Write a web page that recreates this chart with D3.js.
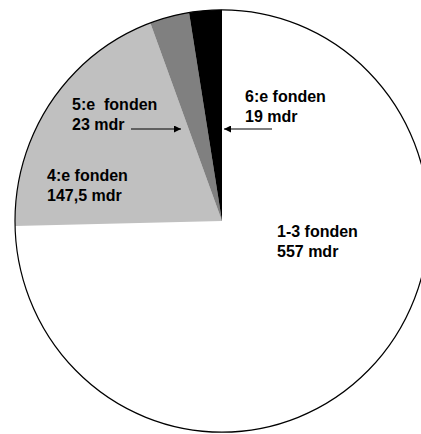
<!DOCTYPE html>
<html>
<head>
<meta charset="utf-8">
<script src="https://cdn.jsdelivr.net/npm/d3@7"></script>
<style>
  body { margin: 0; background: #fff; }
  text { font-family: "Liberation Sans", Arial, sans-serif; font-weight: bold; font-size: 16px; fill: #000; }
</style>
</head>
<body>
<div id="vis"></div>
<script>
// fund sizes, billions SEK
var funds = ['1-3 fonden', '4:e fonden', '5:e fonden', '6:e fonden'];
var values = [557, 147.5, 23, 19];
var labelLines = [
  ['1-3 fonden', '557 mdr'],
  ['4:e fonden', '147,5 mdr'],
  ['5:e  fonden', '23 mdr'],
  ['6:e fonden', '19 mdr']
];

var width = 421;
var height = 434;
var center = { x: 222, y: 221 };
var radius = 207;

var fillColor = d3.scaleOrdinal()
  .domain(funds)
  .range(['#ffffff', '#c0c0c0', '#808080', '#000000']);

// where each label block sits, and its arrow (if any)
var labelLayout = [
  { x: 277, y: 237, arrow: null },
  { x: 47, y: 181, arrow: null },
  { x: 72, y: 110, arrow: [131, 129, 181, 129] },
  { x: 245, y: 102, arrow: [272, 129, 224, 129] }
];

var svg = d3.select('#vis')
  .append('svg')
  .attr('width', width)
  .attr('height', height);

svg.append('defs').append('marker')
  .attr('id', 'head')
  .attr('viewBox', '0 0 10 10')
  .attr('refX', 10)
  .attr('refY', 5)
  .attr('markerWidth', 8)
  .attr('markerHeight', 7)
  .attr('markerUnits', 'userSpaceOnUse')
  .attr('orient', 'auto')
  .append('path')
  .attr('d', 'M0,0L10,5L0,10Z')
  .attr('fill', '#000');

var pie = d3.pie().sort(null).value(function (d) { return d; });
var arc = d3.arc().innerRadius(0).outerRadius(radius);

var g = svg.append('g')
  .attr('transform', 'translate(' + center.x + ',' + center.y + ') scale(1,1.02)');

g.selectAll('.slice')
  .data(pie(values))
  .enter().append('path')
  .attr('class', 'slice')
  .attr('d', arc)
  .attr('fill', function (d, i) { return fillColor(funds[i]); });

g.append('circle')
  .attr('r', radius)
  .attr('fill', 'none')
  .attr('stroke', '#000')
  .attr('stroke-width', 1.2);

var labels = svg.selectAll('.label')
  .data(labelLines)
  .enter().append('text')
  .attr('class', 'label')
  .attr('x', function (d, i) { return labelLayout[i].x; })
  .attr('y', function (d, i) { return labelLayout[i].y; })
  .attr('xml:space', 'preserve')
  .style('white-space', 'pre');

labels.selectAll('tspan')
  .data(function (d, i) { return d.map(function (t) { return { t: t, x: labelLayout[i].x }; }); })
  .enter().append('tspan')
  .attr('x', function (d) { return d.x; })
  .attr('dy', function (d, j) { return j === 0 ? 0 : 19.5; })
  .text(function (d) { return d.t; });

svg.selectAll('.arrow')
  .data(labelLayout.filter(function (d) { return d.arrow; }))
  .enter().append('line')
  .attr('class', 'arrow')
  .attr('x1', function (d) { return d.arrow[0]; })
  .attr('y1', function (d) { return d.arrow[1]; })
  .attr('x2', function (d) { return d.arrow[2]; })
  .attr('y2', function (d) { return d.arrow[3]; })
  .attr('stroke', '#000')
  .attr('stroke-width', 1.2)
  .attr('marker-end', 'url(#head)');
</script>
</body>
</html>
